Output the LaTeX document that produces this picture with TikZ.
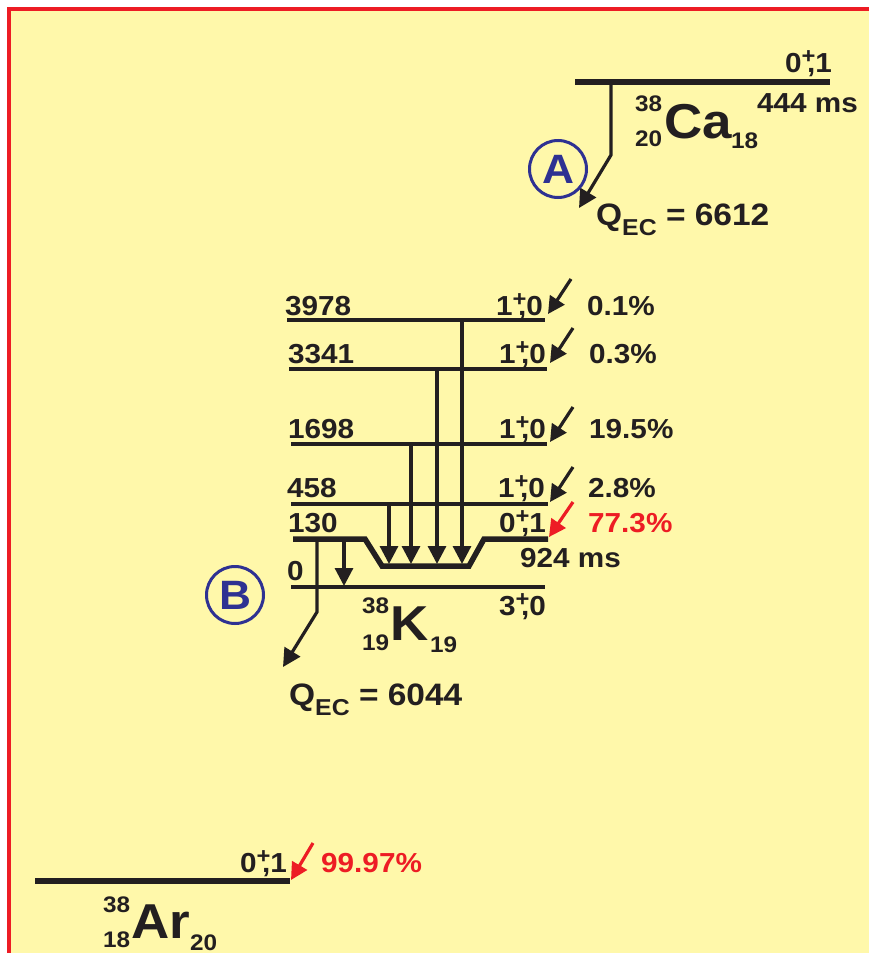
\documentclass[tikz,border=0pt]{standalone}
\usepackage{fontspec}
\setmainfont{Liberation Sans}[FakeStretch=1.08]
\usetikzlibrary{arrows.meta}
\definecolor{bgy}{RGB}{255,248,170}
\definecolor{bred}{RGB}{237,28,36}
\definecolor{bblue}{RGB}{46,49,146}
\definecolor{ink}{RGB}{35,31,32}
\newcommand\myfs[1]{\fontsize{#1}{#1}\selectfont}
\newcommand\jpi[2]{#1\raisebox{9pt}{\myfs{22}+}\kern-8.5pt,#2}
\begin{document}
\begin{tikzpicture}[x=1pt,y=-1pt,
  lvl/.style={line width=3.6pt, draw=ink},
  lvlthick/.style={line width=5.5pt, draw=ink, line join=miter},
  gam/.style={line width=3.2pt, draw=ink, -{Triangle[length=18pt,width=18pt]}},
  feed/.style={line width=3.2pt, draw=ink, -{Triangle[length=17pt,width=17pt]}},
  feedr/.style={line width=3.2pt, draw=bred, -{Triangle[length=17pt,width=17pt]}},
  ecarrow/.style={line width=3.2pt, draw=ink, -{Triangle[length=18pt,width=18pt]}},
  lab/.style={inner sep=0pt, text=ink, font=\bfseries\myfs{27.5}},
  labr/.style={inner sep=0pt, text=bred, font=\bfseries\myfs{27.5}},
  qlab/.style={inner sep=0pt, text=ink, font=\bfseries\myfs{31}},
  small/.style={inner sep=0pt, text=ink, font=\bfseries\myfs{22.5}},
  big/.style={inner sep=0pt, text=ink, font=\bfseries\myfs{49}},
  circ/.style={circle, draw=bblue, line width=3pt, minimum size=57pt, inner sep=0pt, text=bblue, font=\bfseries\myfs{41}}
]
\useasboundingbox (0,0) rectangle (869,953);
\fill[white] (0,0) rectangle (869,953);
\fill[bgy] (8.75,8.75) rectangle (869,953);
\draw[bred, line width=3.5pt] (8.75,953) -- (8.75,8.75) -- (869,8.75);

% ---------- 38Ca ----------
\coordinate (caA) at (575,82);
\coordinate (caB) at (830,82);
\draw[lvlthick] (caA) -- (caB);
\node[lab, anchor=base east] (caJ) at (832,72) {\jpi{0}{1}};
\node[lab, anchor=base west] (caT) at (757,112) {444 ms};
\node[small, anchor=base west] (caM) at (635,111) {38};
\node[small, anchor=base west] (caZ) at (635,146) {20};
\node[big, anchor=base west] (caS) at (664,138) {Ca};
\node[small, anchor=base west] (caN) at (731,148) {18};
\coordinate (caE0) at (611,84);
\coordinate (caE1) at (611,155);
\coordinate (caE2) at (579,208);
\draw[ecarrow] (caE0) -- (caE1) -- (caE2);
\node[circ] (cA) at (558,169) {A};
\node[qlab, anchor=base west] (qCa) at (596,225) {Q\raisebox{-10pt}{\myfs{23}EC} = 6612};

% ---------- 38K levels ----------
\coordinate (k3978a) at (287,320); \coordinate (k3978b) at (545,320);
\coordinate (k3341a) at (289,369); \coordinate (k3341b) at (547,369);
\coordinate (k1698a) at (291,444); \coordinate (k1698b) at (547,444);
\coordinate (k458a)  at (291,504); \coordinate (k458b)  at (548,504);
\coordinate (k0a)    at (291,587); \coordinate (k0b)    at (545,587);
\draw[lvl] (k3978a) -- (k3978b);
\draw[lvl] (k3341a) -- (k3341b);
\draw[lvl] (k1698a) -- (k1698b);
\draw[lvl] (k458a) -- (k458b);
\draw[lvl] (k0a) -- (k0b);
\coordinate (k130a) at (293,539);
\coordinate (k130p) at (365,539);
\coordinate (k130q) at (382,566);
\coordinate (k130r) at (469,566);
\coordinate (k130s) at (484,539);
\coordinate (k130b) at (548,539);
\draw[lvlthick] (k130a) -- (k130p) -- (k130q) -- (k130r) -- (k130s) -- (k130b);

\node[lab, anchor=base west] (e3978) at (285,315) {3978};
\node[lab, anchor=base west] (e3341) at (288,363) {3341};
\node[lab, anchor=base west] (e1698) at (288,438) {1698};
\node[lab, anchor=base west] (e458)  at (287,497) {458};
\node[lab, anchor=base west] (e130)  at (288,532) {130};
\node[lab, anchor=base west] (e0)    at (287,580) {0};

\node[lab, anchor=base east] (j3978) at (543,315) {\jpi{1}{0}};
\node[lab, anchor=base east] (j3341) at (546,363) {\jpi{1}{0}};
\node[lab, anchor=base east] (j1698) at (546,438) {\jpi{1}{0}};
\node[lab, anchor=base east] (j458)  at (545,497) {\jpi{1}{0}};
\node[lab, anchor=base east] (j130)  at (546,532) {\jpi{0}{1}};
\node[lab, anchor=base east] (j0)    at (546,615) {\jpi{3}{0}};
\node[lab, anchor=base west] (t130)  at (520,567) {924 ms};

\node[lab, anchor=base west] (p3978) at (587,315) {0.1\%};
\node[lab, anchor=base west] (p3341) at (589,363) {0.3\%};
\node[lab, anchor=base west] (p1698) at (589,438) {19.5\%};
\node[lab, anchor=base west] (p458)  at (588,497) {2.8\%};
\node[labr, anchor=base west] (p130) at (588,532) {77.3\%};

% feeding arrows
\coordinate (f1s) at (571,279); \coordinate (f1t) at (548,314);
\coordinate (f2s) at (573,328); \coordinate (f2t) at (550,363);
\coordinate (f3s) at (573,407); \coordinate (f3t) at (550,442);
\coordinate (f4s) at (573,467); \coordinate (f4t) at (550,502);
\coordinate (f5s) at (573,502); \coordinate (f5t) at (549,537);
\draw[feed] (f1s) -- (f1t);
\draw[feed] (f2s) -- (f2t);
\draw[feed] (f3s) -- (f3t);
\draw[feed] (f4s) -- (f4t);
\draw[feedr] (f5s) -- (f5t);

% gamma transitions
\coordinate (g1s) at (389,504); \coordinate (g1t) at (389,564);
\coordinate (g2s) at (411,444); \coordinate (g2t) at (411,564);
\coordinate (g3s) at (437,369); \coordinate (g3t) at (437,564);
\coordinate (g4s) at (462,320); \coordinate (g4t) at (462,564);
\coordinate (g5s) at (344,539); \coordinate (g5t) at (344,586);
\draw[gam] (g1s) -- (g1t);
\draw[gam] (g2s) -- (g2t);
\draw[gam] (g3s) -- (g3t);
\draw[gam] (g4s) -- (g4t);
\draw[gam] (g5s) -- (g5t);

% K symbol
\node[small, anchor=base west] (kM) at (362,613) {38};
\node[small, anchor=base west] (kZ) at (362,650) {19};
\node[big, anchor=base west] (kS) at (390,640) {K};
\node[small, anchor=base west] (kN) at (430,652) {19};

% EC decay of 38K
\coordinate (kE0) at (317,541);
\coordinate (kE1) at (317,612);
\coordinate (kE2) at (283,667);
\draw[ecarrow] (kE0) -- (kE1) -- (kE2);
\node[circ] (cB) at (235,595) {B};
\node[qlab, anchor=base west] (qK) at (289,705) {Q\raisebox{-10pt}{\myfs{23}EC} = 6044};

% ---------- 38Ar ----------
\coordinate (arA) at (35,881);
\coordinate (arB) at (290,881);
\draw[lvlthick] (arA) -- (arB);
\node[lab, anchor=base east] (arJ) at (287,872) {\jpi{0}{1}};
\coordinate (far s) at (313,843); \coordinate (far t) at (291,880);
\draw[feedr] (far s) -- (far t);
\node[labr, anchor=base west] (arP) at (321,872) {99.97\%};
\node[small, anchor=base west] (arM) at (103,912) {38};
\node[small, anchor=base west] (arZ) at (103,947) {18};
\node[big, anchor=base west] (arS) at (131,938) {Ar};
\node[small, anchor=base west] (arN) at (190,950) {20};
\end{tikzpicture}
\end{document}
